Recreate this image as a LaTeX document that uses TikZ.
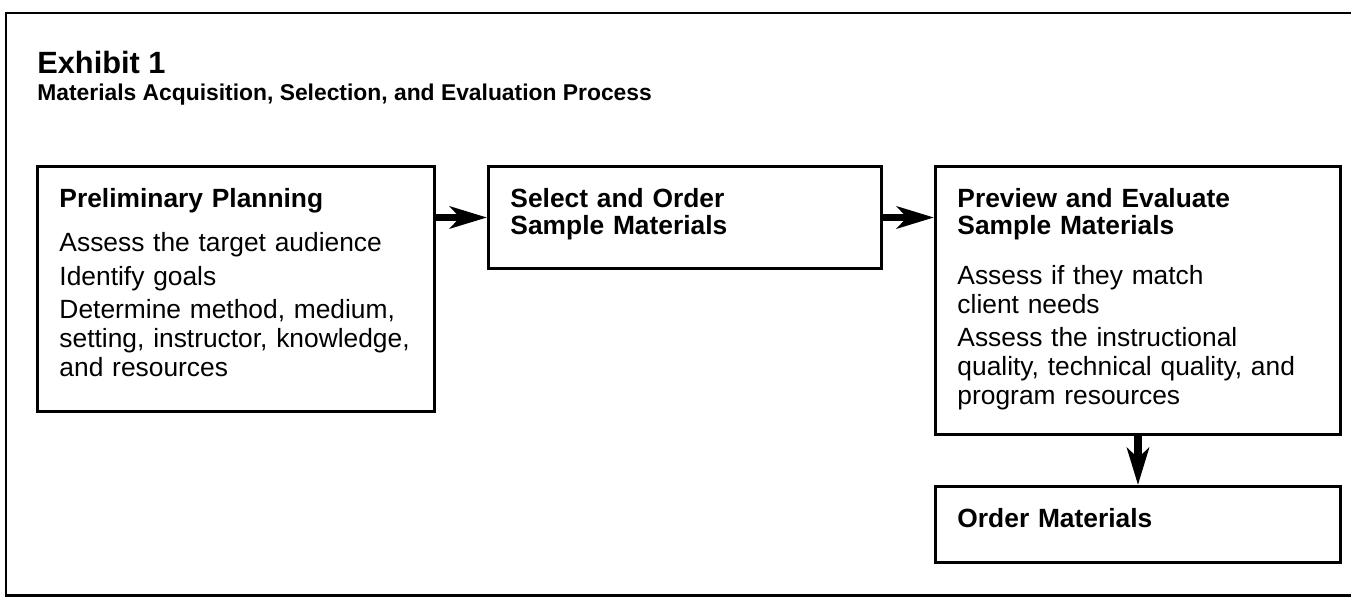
\documentclass[tikz,border=0pt]{standalone}
\usepackage{fontspec}
\setmainfont{Liberation Sans}
\usepackage{tikz}
\usetikzlibrary{positioning}
\usetikzlibrary{arrows.meta}

\tikzset{
    box/.style={draw, line width=1.7pt, rectangle, anchor=north west, align=left,
        inner xsep=0.44cm, inner ysep=0.46cm, text height=0.36cm,
        font=\fontsize{15}{16.5}\selectfont},
    flow/.style={line width=4pt, -{Stealth[length=0.74cm, width=0.44cm, inset=0.2cm]}}
}

\begin{document}
\begin{tikzpicture}
        \def\gap{1.02}
        \def\drop{0.98}

        \useasboundingbox (0,0) rectangle (27.02,11.94);

        % outer frame
        \draw[line width=1.7pt] (27.02,11.68) -- (0.12,11.68) -- (0.12,0.04) -- (27.02,0.04);

        \node[anchor=base west, inner sep=0pt, font=\fontsize{17.5}{20}\selectfont\bfseries] (exhibit) at (0.74,10.48) {Exhibit 1};
        \node[anchor=base west, inner sep=0pt, font=\fontsize{13}{15}\selectfont\bfseries] (caption) at (0.74,9.94) {Materials Acquisition, Selection, and Evaluation Process};

        \node[box, text width=7.06cm, text depth=3.62cm] (plan) at (0.72,8.64) {\textbf{Preliminary Planning}\\[0.3cm]
            Assess the target audience\\[0.1cm]
            Identify goals\\[0.08cm]
            Determine method, medium,\\ setting, instructor, knowledge,\\ and resources};

        \node[box, text width=6.98cm, text depth=0.76cm, right=\gap cm of plan.north east, anchor=north west] (select) {\textbf{Select and Order}\\[-0.04cm]
            \textbf{Sample Materials}};

        \node[box, text width=7.22cm, text depth=4.08cm, right=\gap cm of select.north east, anchor=north west] (preview) {\textbf{Preview and Evaluate}\\[-0.04cm]
            \textbf{Sample Materials}\\[0.42cm]
            Assess if they match\\ client needs\\[0.08cm]
            Assess the instructional\\ quality, technical quality, and\\ program resources};

        \node[box, text width=7.22cm, text depth=0.24cm, below=\drop cm of preview] (order) {\textbf{Order Materials}};

        \draw[flow] (plan.east |- select.west) -- (select.west);
        \draw[flow] (select.east) -- (preview.west |- select.east);
        \draw[flow] (preview.south) -- (order.north);
    \end{tikzpicture}
\end{document}
